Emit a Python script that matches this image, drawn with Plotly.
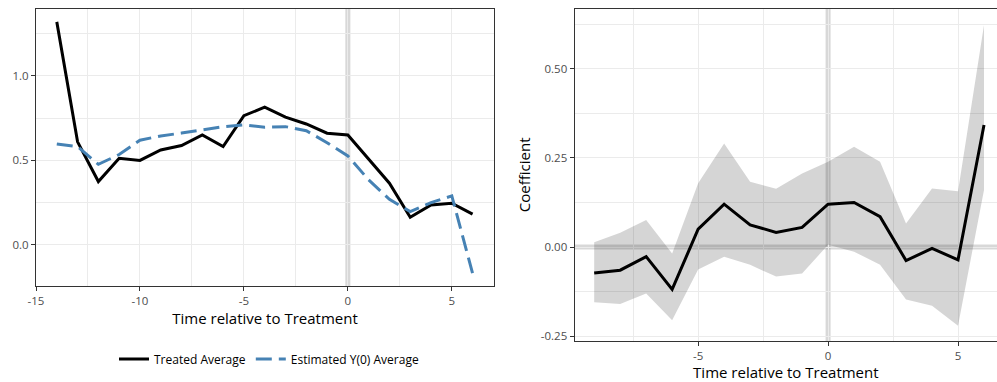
import plotly.graph_objects as go

# ---------------- data ----------------
time_left = list(range(-14, 7))
treated_avg = [1.32, 0.61, 0.375, 0.513, 0.50, 0.562, 0.588, 0.651, 0.582, 0.765,
               0.815, 0.756, 0.716, 0.661, 0.651, 0.51, 0.365, 0.164, 0.237, 0.247, 0.182]
y0_avg = [0.598, 0.582, 0.477, 0.535, 0.62, 0.645, 0.662, 0.68, 0.70, 0.71,
          0.696, 0.70, 0.676, 0.605, 0.527, 0.385, 0.27, 0.197, 0.25, 0.29, -0.168]

time_right = list(range(-9, 7))
coef = [-0.073, -0.065, -0.027, -0.119, 0.050, 0.120, 0.062, 0.041, 0.055, 0.120,
        0.125, 0.085, -0.038, -0.004, -0.036, 0.342]
ci_upper = [0.013, 0.040, 0.076, -0.018, 0.179, 0.290, 0.183, 0.163, 0.206, 0.239,
            0.281, 0.239, 0.066, 0.164, 0.156, 0.622]
ci_lower = [-0.155, -0.160, -0.130, -0.205, -0.063, -0.027, -0.050, -0.083, -0.074, 0.006,
            -0.013, -0.050, -0.147, -0.165, -0.221, 0.160]

left_xticks = [-15, -10, -5, 0, 5]
left_yticks = [0.0, 0.5, 1.0]
left_ytext = ["0.0", "0.5", "1.0"]
right_xticks = [-5, 0, 5]
right_yticks = [-0.25, 0.0, 0.25, 0.50]
right_ytext = ["-0.25", "0.00", "0.25", "0.50"]

FONT = "Open Sans"
W, H = 997, 382

fig = go.Figure()

# left panel
fig.add_trace(go.Scatter(x=time_left, y=treated_avg, mode="lines", name="Treated Average",
                         line=dict(color="black", width=3), xaxis="x", yaxis="y"))
fig.add_trace(go.Scatter(x=time_left, y=y0_avg, mode="lines", name="Estimated Y(0) Average",
                         line=dict(color="#4682B4", width=3, dash="16px,7px"), xaxis="x", yaxis="y"))

# right panel ribbon
fig.add_trace(go.Scatter(x=time_right + time_right[::-1], y=ci_upper + ci_lower[::-1],
                         mode="lines", fill="toself", fillcolor="rgba(0,0,0,0.165)",
                         line=dict(width=0, color="rgba(0,0,0,0)"), showlegend=False,
                         hoverinfo="skip", xaxis="x2", yaxis="y2"))
fig.add_trace(go.Scatter(x=time_right, y=coef, mode="lines", showlegend=False,
                         line=dict(color="black", width=3), xaxis="x2", yaxis="y2"))

ref_col = "rgba(127,127,127,0.3)"
fig.add_shape(type="line", xref="x", yref="paper", x0=0, x1=0, y0=1 - 286 / H, y1=1 - 8.7 / H,
              line=dict(color=ref_col, width=5), layer="below")
fig.add_shape(type="line", xref="x2", yref="paper", x0=0, x1=0, y0=1 - 341 / H, y1=1 - 8.7 / H,
              line=dict(color=ref_col, width=5), layer="below")
fig.add_shape(type="line", xref="paper", yref="y2", x0=574.7 / W, x1=1.0, y0=0, y1=0,
              line=dict(color=ref_col, width=5), layer="below")

grid = "#ebebeb"
axline = "#333333"
tickfont = dict(family=FONT, size=11.5, color="#4d4d4d")
titlefont = dict(family=FONT, size=15, color="black")

common = dict(showline=True, linecolor=axline, linewidth=1.3, ticks="outside", ticklen=4,
              tickcolor=axline, tickwidth=1, tickfont=tickfont, gridcolor=grid, gridwidth=1.2,
              zeroline=False, showgrid=True, automargin=False)

fig.update_layout(
    width=W, height=H, margin=dict(l=0, r=0, t=0, b=0, autoexpand=False),
    paper_bgcolor="white", plot_bgcolor="rgba(0,0,0,0)",
    font=dict(family=FONT),
    xaxis=dict(domain=[36 / W, 494 / W], range=[-15, 7.03], tickvals=left_xticks,
               ticktext=[str(v) for v in left_xticks], mirror=True,
               minor=dict(dtick=2.5, tick0=0, showgrid=True, gridcolor=grid, gridwidth=0.8, ticks=""),
               title=dict(text="Time relative to Treatment", font=titlefont, standoff=2),
               anchor="y", **common),
    yaxis=dict(domain=[1 - 286 / H, 1 - 8.7 / H], range=[-0.243, 1.398], tickvals=left_yticks,
               ticktext=left_ytext, mirror=True,
               minor=dict(dtick=0.25, tick0=0, showgrid=True, gridcolor=grid, gridwidth=0.8, ticks=""),
               anchor="x", **common),
    xaxis2=dict(domain=[574.7 / W, 1.0], range=[-9.75, 6.5], tickvals=right_xticks,
                ticktext=[str(v) for v in right_xticks], mirror=True,
                minor=dict(dtick=2.5, tick0=0, showgrid=True, gridcolor=grid, gridwidth=0.8, ticks=""),
                title=dict(text="Time relative to Treatment", font=titlefont, standoff=2),
                anchor="y2", **common),
    yaxis2=dict(domain=[1 - 341 / H, 1 - 8.7 / H], range=[-0.2635, 0.668], tickvals=right_yticks,
                ticktext=right_ytext, mirror=False,
                minor=dict(dtick=0.125, tick0=0, showgrid=True, gridcolor=grid, gridwidth=0.8, ticks=""),
                title=dict(text="Coefficient", font=titlefont, standoff=6),
                anchor="x2", **common),
    legend=dict(orientation="h", x=269 / W, xanchor="center", y=1 - 359 / H, yanchor="middle",
                font=dict(family=FONT, size=12, color="black"), bgcolor="rgba(0,0,0,0)"),
)

fig.write_html("out.html")
